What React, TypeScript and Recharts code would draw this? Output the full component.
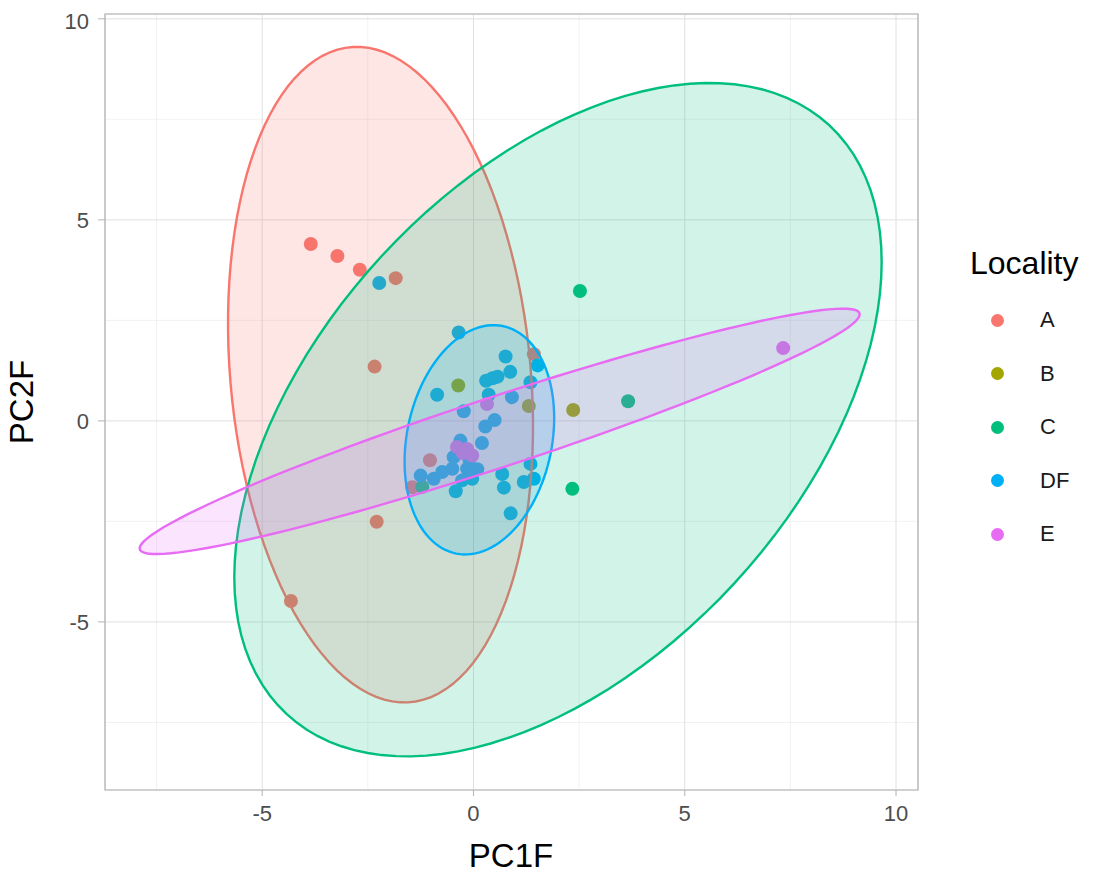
import { ScatterChart, Scatter, XAxis, YAxis, CartesianGrid, ReferenceArea } from "recharts";

// Locality groups and the default ggplot hue palette
const localities = ["A", "B", "C", "DF", "E"];
const colors = ["#F8766D", "#A3A500", "#00BF7D", "#00B0F6", "#E76BF3"];

// PCA scores
const aX = [-3.85, -3.22, -2.69, -1.84, -2.34, -2.29, -4.32, -1.03, -1.45, 1.43];
const aY = [4.4, 4.1, 3.76, 3.55, 1.35, -2.51, -4.48, -0.98, -1.65, 1.66];
const bX = [-0.36, 2.36, 1.31];
const bY = [0.88, 0.27, 0.37];
const cX = [2.52, 2.34, 3.66, -1.21];
const cY = [3.23, -1.69, 0.49, -1.64];
const dfX = [-2.23, -0.35, 0.76, 0.87, 1.52, 0.3, 0.45, 0.57, 1.35, -0.86, 0.91, 0.36, -0.23, 0.5, 0.28, 0.2, -0.31, -0.47, -0.5, -0.74, -0.94, -1.25, -0.15, 0.09, -0.03, -0.27, -0.42, 0.68, 0.72, 0.88, 1.19, 1.43, 1.35, -0.1];
const dfY = [3.43, 2.2, 1.6, 1.22, 1.38, 1.0, 1.06, 1.1, 0.96, 0.65, 0.59, 0.65, 0.24, 0.02, -0.14, -0.55, -0.49, -0.9, -1.19, -1.27, -1.44, -1.36, -1.19, -1.2, -1.44, -1.48, -1.75, -1.32, -1.66, -2.3, -1.52, -1.44, -1.07, -0.95];
const eX = [7.33, 0.32, -0.39, -0.15, -0.03, -0.25];
const eY = [1.81, 0.42, -0.65, -0.7, -0.86, -0.8];

// stat_ellipse outlines: centre plus two conjugate half-axes (data units)
const ellipseGroups = [0, 2, 3, 4];
const ellipseCx = [-2.2, 2.0, 0.14, 0.62];
const ellipseCy = [1.15, 0.03, -0.47, -0.26];
const ellipseU = [[-0.65, 8.15], [7.66, 3.92], [1.77, 0.54], [8.52, 2.91]];
const ellipseV = [[3.55, 0.2], [0, 7.4], [0, 2.8], [0, 0.92]];

const majorTicks = [-5, 0, 5, 10];
const minorTicks = [-7.5, -2.5, 2.5, 7.5];
const xDomain = [-8.72, 10.52];
const yDomain = [-9.18, 10.12];

const pointSets = [
  [aX, aY],
  [bX, bY],
  [cX, cY],
  [dfX, dfY],
  [eX, eY],
].map(([xs, ys]) => xs.map((x, i) => ({ x, y: ys[i] })));

const ellipseData = ellipseGroups.map((_, k) => {
  const pts = [];
  for (let i = 0; i < 120; i++) {
    const t = (i / 120) * Math.PI * 2;
    pts.push({
      x: ellipseCx[k] + ellipseU[k][0] * Math.cos(t) + ellipseV[k][0] * Math.sin(t),
      y: ellipseCy[k] + ellipseU[k][1] * Math.cos(t) + ellipseV[k][1] * Math.sin(t),
    });
  }
  return pts;
});

const font = "'Liberation Sans', Arial, sans-serif";

const ellipseLine = (color: string) => (p: any) => {
  const pts = p.points || [];
  const d = pts.map((q: any, i: number) => `${i ? "L" : "M"}${q.x},${q.y}`).join(" ") + " Z";
  return <path d={d} fill={color} fillOpacity={0.18} stroke={color} strokeWidth={2.4} />;
};

export default function App() {
  return (
    <div style={{ position: "relative", width: 1086, height: 871, fontFamily: font }}>
      <ScatterChart width={1086} height={871} margin={{ top: 6, right: 176, bottom: 0, left: 0 }}>
        <CartesianGrid xAxisId="minor" yAxisId="minor" stroke="#EFEFEF" strokeWidth={0.8} />
        <CartesianGrid stroke="#E0E0E0" strokeWidth={1} />
        <XAxis
          type="number"
          dataKey="x"
          domain={xDomain}
          ticks={majorTicks}
          allowDataOverflow
          axisLine={false}
          tickLine={{ stroke: "#B3B3B3" }}
          tickSize={6}
          tickMargin={9}
          height={89}
          tick={{ fill: "#4D4D4D", fontSize: 22, fontFamily: font }}
        />
        <YAxis
          type="number"
          dataKey="y"
          domain={yDomain}
          ticks={majorTicks}
          allowDataOverflow
          axisLine={false}
          tickLine={{ stroke: "#B3B3B3" }}
          tickSize={7}
          tickMargin={9}
          width={97}
          tick={{ fill: "#4D4D4D", fontSize: 22, fontFamily: font }}
        />
        <XAxis xAxisId="minor" type="number" dataKey="x" domain={xDomain} ticks={minorTicks} allowDataOverflow hide />
        <YAxis yAxisId="minor" type="number" dataKey="y" domain={yDomain} ticks={minorTicks} allowDataOverflow hide />
        {pointSets.map((data, g) => (
          <Scatter
            key={localities[g]}
            name={localities[g]}
            data={data}
            isAnimationActive={false}
            shape={(p: any) => <circle cx={p.cx} cy={p.cy} r={7} fill={colors[g]} />}
          />
        ))}
        {ellipseData.map((data, k) => (
          <Scatter
            key={"ell" + k}
            data={data}
            isAnimationActive={false}
            line={ellipseLine(colors[ellipseGroups[k]])}
            shape={() => <g />}
          />
        ))}
        <ReferenceArea
          x1={xDomain[0]}
          x2={xDomain[1]}
          y1={yDomain[0]}
          y2={yDomain[1]}
          fill="none"
          stroke="#B3B3B3"
          strokeWidth={1.2}
          ifOverflow="visible"
        />
      </ScatterChart>

      <div style={{ position: "absolute", left: 503, top: 848, transform: "translate(-50%, -50%)", fontSize: 33, color: "#000" }}>
        PC1F
      </div>
      <div
        style={{
          position: "absolute",
          left: 14,
          top: 394,
          transform: "translate(-50%, -50%) rotate(-90deg)",
          fontSize: 33,
          color: "#000",
        }}
      >
        PC2F
      </div>

      <div style={{ position: "absolute", left: 962, top: 255, transform: "translateY(-50%)", fontSize: 32, color: "#000" }}>
        Locality
      </div>
      {localities.map((name, i) => (
        <div key={name}>
          <div
            style={{
              position: "absolute",
              left: 983,
              top: 312 + i * 53.5 - 6.5,
              width: 13,
              height: 13,
              borderRadius: "50%",
              background: colors[i],
            }}
          />
          <div
            style={{
              position: "absolute",
              left: 1032,
              top: 312 + i * 53.5,
              transform: "translateY(-50%)",
              fontSize: 22,
              color: "#1A1A1A",
            }}
          >
            {name}
          </div>
        </div>
      ))}
    </div>
  );
}
